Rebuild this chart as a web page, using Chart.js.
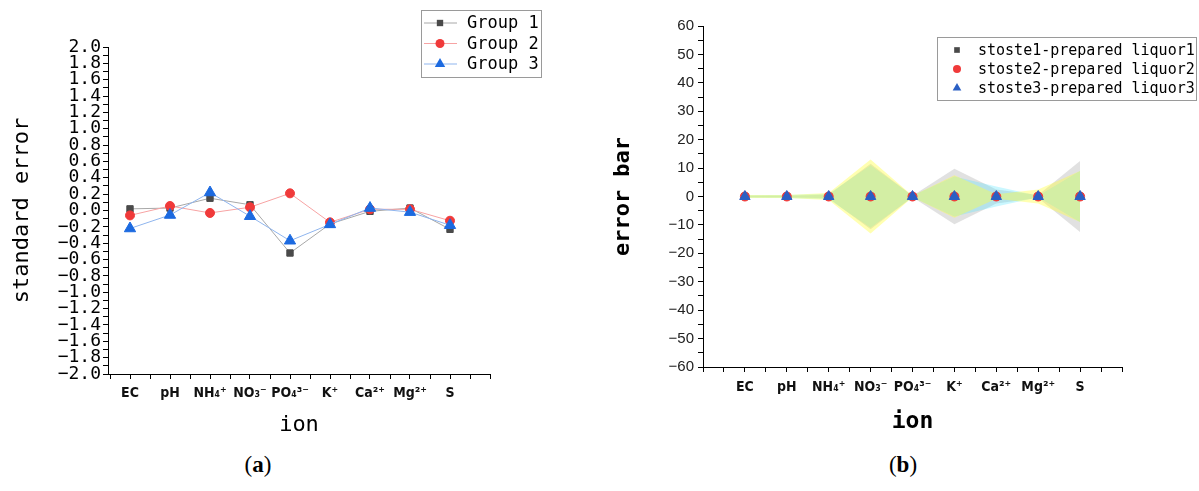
<!DOCTYPE html>
<html>
<head>
<meta charset="utf-8">
<script src="https://cdn.jsdelivr.net/npm/chart.js@4.4.1/dist/chart.umd.min.js"></script>
<style>
  body { margin: 0; background: #fff; width: 1199px; height: 491px; position: relative; overflow: hidden; }
  canvas { position: absolute; top: 0; }
  #left { left: 0; }
  #right { left: 600px; }
  .cap { position: absolute; top: 452px; font: 23px "Liberation Serif", serif; color: #000; transform: translateX(-50%); }
</style>
</head>
<body>
<canvas id="left" width="600" height="440"></canvas>
<canvas id="right" width="599" height="440"></canvas>
<div class="cap" style="left:258px">(<b>a</b>)</div>
<div class="cap" style="left:903px">(<b>b</b>)</div>
<script>
// categories
const ions = ["EC", "pH", "NH₄⁺", "NO₃⁻", "PO₄³⁻", "K⁺", "Ca²⁺", "Mg²⁺", "S"];

// (a) standard error per group
const group1 = [0.02, 0.03, 0.15, 0.07, -0.52, -0.165, -0.01, 0.03, -0.23];
const group2 = [-0.06, 0.055, -0.03, 0.04, 0.21, -0.145, 0.015, 0.015, -0.125];
const group3 = [-0.22, -0.055, 0.22, -0.07, -0.37, -0.17, 0.03, -0.02, -0.18];

// (b) stoste - prepared liquor, centre value and error half-width
const diff1 = [0, 0, 0, 0, 0, 0, 0, 0, 0];
const diff2 = [0, 0, 0, 0, 0, 0, 0, 0, 0];
const diff3 = [0, 0, 0, 0, 0, 0, 0, 0, 0];
const err1 = [0.3, 0.3, 0.6, 11.5, 0.3, 9.8, 2.5, 0.5, 12.5];
const err2 = [0.5, 0.5, 1.2, 13, 0.3, 7.5, 0.8, 2.5, 9];
const err3 = [0.4, 0.5, 1.0, 11, 0.3, 7, 3.5, 0.3, 9];

const mono = "'DejaVu Sans Mono', monospace";
const tickFont = { family: "'Liberation Sans Narrow', 'DejaVu Sans Condensed', 'DejaVu Sans'", size: 14, weight: "bold" };

const pts = (arr) => arr.map((v, i) => ({ x: i + 1, y: v }));
const minus = (s) => s.replace("-", "−");

// draws a boxed legend at a fixed spot
const boxLegend = {
    id: "boxLegend",
    afterDraw(chart, args, opts) {
        const ctx = chart.ctx;
        ctx.save();
        ctx.strokeStyle = "#9a9a9a";
        ctx.lineWidth = 1;
        ctx.fillStyle = "#fff";
        ctx.fillRect(opts.x, opts.y, opts.w, opts.h);
        ctx.strokeRect(opts.x + 0.5, opts.y + 0.5, opts.w, opts.h);
        opts.rows.forEach((r, i) => {
            const y = opts.y + opts.first + i * opts.gap;
            if (opts.line) {
                ctx.strokeStyle = r.line;
                ctx.beginPath();
                ctx.moveTo(opts.x + 3, y);
                ctx.lineTo(opts.x + 36, y);
                ctx.stroke();
            }
            ctx.fillStyle = r.color;
            ctx.strokeStyle = r.color;
            Chart.helpers.drawPoint(ctx, { pointStyle: r.style, radius: r.radius, rotation: 0, borderWidth: 0 }, opts.markX, y);
            ctx.fillStyle = "#000";
            ctx.font = opts.font;
            ctx.textBaseline = "middle";
            ctx.fillText(r.text, opts.textX, y + 1);
        });
        ctx.restore();
    }
};

new Chart(document.getElementById("left"), {
    type: "scatter",
    data: {
        datasets: [
            { label: "Group 1", data: pts(group1), showLine: true, borderColor: "#a8a8a8", borderWidth: 1,
              pointStyle: "rect", pointRadius: 4.5, backgroundColor: "#4a4a4a", pointBorderColor: "#4a4a4a", order: 2 },
            { label: "Group 2", data: pts(group2), showLine: true, borderColor: "#f7a3a3", borderWidth: 1,
              pointStyle: "circle", pointRadius: 4.5, backgroundColor: "#f03a3a", pointBorderColor: "#f03a3a", order: 1 },
            { label: "Group 3", data: pts(group3), showLine: true, borderColor: "#8fb5ee", borderWidth: 1,
              pointStyle: "triangle", pointRadius: 6.5, backgroundColor: "#1c6ae0", pointBorderColor: "#1c6ae0", order: 0 }
        ]
    },
    options: {
        responsive: false,
        animation: false,
        layout: { padding: { left: 0, top: 47, right: 110, bottom: 0 } },
        scales: {
            x: {
                type: "linear", min: 0.45, max: 10,
                afterFit: (s) => { s.height = 66; },
                border: { display: true, color: "#000", width: 1 },
                grid: { drawOnChartArea: false, tickLength: 5, color: "#000" },
                ticks: {
                    stepSize: 0.5, includeBounds: false, autoSkip: false, maxRotation: 0, padding: 6,
                    color: "#111", font: tickFont,
                    callback: (v) => Number.isInteger(v) ? (ions[v - 1] || "") : ""
                },
                title: { display: true, text: "ion", color: "#000", font: { family: mono, size: 22 }, padding: { top: 0, bottom: 2 } }
            },
            y: {
                min: -2, max: 2,
                afterFit: (s) => { s.width = 108; },
                border: { display: true, color: "#000", width: 1 },
                grid: { drawOnChartArea: false, tickLength: 5, color: "#000" },
                ticks: {
                    stepSize: 0.1, autoSkip: false, padding: 2, color: "#000",
                    font: { family: mono, size: 18 },
                    callback: (v) => {
                        const k = Math.round(v * 10);
                        return k % 2 === 0 ? minus((k / 10).toFixed(1)) : "";
                    }
                },
                title: { display: true, text: "standard error", color: "#000", font: { family: mono, size: 22 }, padding: { top: 9, bottom: 0 } }
            }
        },
        plugins: {
            legend: { display: false },
            tooltip: { enabled: false },
            boxLegend: {
                x: 421, y: 10, w: 120, h: 67, first: 13, gap: 20.5, line: true,
                markX: 440, textX: 467, font: "17px " + mono,
                rows: [
                    { text: "Group 1", color: "#4a4a4a", line: "#a8a8a8", style: "rect", radius: 4.5 },
                    { text: "Group 2", color: "#f03a3a", line: "#f7a3a3", style: "circle", radius: 4.5 },
                    { text: "Group 3", color: "#1c6ae0", line: "#8fb5ee", style: "triangle", radius: 6 }
                ]
            }
        }
    },
    plugins: [boxLegend]
});

const band = (centre, err, sign) => centre.map((c, i) => ({ x: i + 1, y: c + sign * err[i] }));
const bandSet = (centre, err, fillColor, order) => [
    { data: band(centre, err, 1), showLine: true, borderWidth: 0, borderColor: "rgba(0,0,0,0)", pointRadius: 0,
      fill: "+1", backgroundColor: fillColor, order },
    { data: band(centre, err, -1), showLine: true, borderWidth: 0, borderColor: "rgba(0,0,0,0)", pointRadius: 0,
      fill: false, order }
];

new Chart(document.getElementById("right"), {
    type: "scatter",
    data: {
        datasets: [
            { label: "stoste3-prepared liquor3", data: pts(diff3), pointStyle: "triangle", pointRadius: 6,
              backgroundColor: "#2a5fc4", pointBorderColor: "#2a5fc4", order: 0 },
            { label: "stoste2-prepared liquor2", data: pts(diff2), pointStyle: "circle", pointRadius: 4.5,
              backgroundColor: "#f03a3a", pointBorderColor: "#f03a3a", order: 1 },
            { label: "stoste1-prepared liquor1", data: pts(diff1), pointStyle: "rect", pointRadius: 4.5,
              backgroundColor: "#4a4a4a", pointBorderColor: "#4a4a4a", order: 2 },
            ...bandSet(diff2, err2, "rgba(255,255,60,0.4)", 3),
            ...bandSet(diff3, err3, "rgba(80,230,255,0.3)", 4),
            ...bandSet(diff1, err1, "rgba(170,170,170,0.35)", 5)
        ]
    },
    options: {
        responsive: false,
        animation: false,
        layout: { padding: { left: 0, top: 26, right: 77, bottom: 0 } },
        scales: {
            x: {
                type: "linear", min: 0, max: 10,
                afterFit: (s) => { s.height = 73; },
                border: { display: true, color: "#000", width: 1 },
                grid: { drawOnChartArea: false, tickLength: 5, color: "#000" },
                ticks: {
                    stepSize: 0.5, autoSkip: false, maxRotation: 0, padding: 7,
                    color: "#111", font: tickFont,
                    callback: (v) => Number.isInteger(v) ? (ions[v - 1] || "") : ""
                },
                title: { display: true, text: "ion", color: "#000", font: { family: mono, size: 23, weight: "bold" }, padding: { top: 0, bottom: 4 } }
            },
            y: {
                min: -60, max: 60,
                afterFit: (s) => { s.width = 103; },
                border: { display: true, color: "#000", width: 1 },
                grid: { drawOnChartArea: false, tickLength: 5, color: "#000" },
                ticks: {
                    stepSize: 5, autoSkip: false, padding: 4, color: "#222",
                    font: { family: "'Liberation Sans', Arial", size: 15 },
                    callback: (v) => v % 10 === 0 ? minus(String(v)) : ""
                },
                title: { display: true, text: "error bar", color: "#000", font: { family: mono, size: 22, weight: "bold" }, padding: { top: 10, bottom: 0 } }
            }
        },
        plugins: {
            legend: { display: false },
            tooltip: { enabled: false },
            boxLegend: {
                x: 337, y: 37, w: 259, h: 63, first: 13, gap: 19, line: false,
                markX: 357, textX: 378, font: "15px " + mono,
                rows: [
                    { text: "stoste1-prepared liquor1", color: "#4a4a4a", style: "rect", radius: 4 },
                    { text: "stoste2-prepared liquor2", color: "#f03a3a", style: "circle", radius: 4 },
                    { text: "stoste3-prepared liquor3", color: "#2a5fc4", style: "triangle", radius: 5 }
                ]
            }
        }
    },
    plugins: [boxLegend]
});
</script>
</body>
</html>
